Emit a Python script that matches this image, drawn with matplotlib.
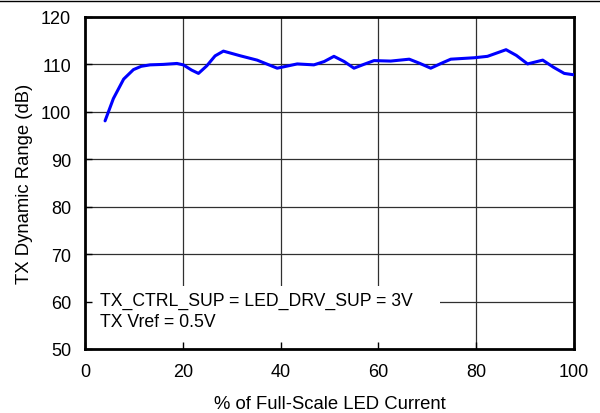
import matplotlib.pyplot as plt
from matplotlib.lines import Line2D
from matplotlib.patches import Rectangle

plt.rcParams['font.family'] = ['Liberation Sans', 'DejaVu Sans']

# % of full-scale LED current vs TX dynamic range (dB)
current = [4.1, 5.8, 7.9, 9.9, 11.5, 13.3, 16.0, 18.8, 20.1, 21.8, 23.2, 24.9,
           26.6, 28.3, 31.8, 35.2, 39.3, 43.4, 46.8, 48.9, 50.9, 53.0, 55.0,
           57.0, 59.1, 62.5, 66.3, 68.5, 70.7, 72.8, 74.8, 79.6, 82.3, 84.2,
           86.1, 88.2, 90.5, 93.6, 95.8, 98.0, 100.0]
dyn_range = [98.1, 102.8, 106.9, 108.9, 109.6, 109.9, 110.0, 110.2, 109.9, 108.8,
             108.1, 109.7, 111.8, 112.8, 111.8, 110.9, 109.2, 110.1, 109.9, 110.6,
             111.7, 110.6, 109.2, 110.0, 110.8, 110.7, 111.1, 110.2, 109.2, 110.2,
             111.1, 111.4, 111.7, 112.4, 113.1, 111.9, 110.1, 110.9, 109.4, 108.1,
             107.8]

xticks = [0, 20, 40, 60, 80, 100]
yticks = [50, 60, 70, 80, 90, 100, 110, 120]

fig = plt.figure(figsize=(6, 4.14), dpi=100)
ax = fig.add_axes([0.1417, 0.1546, 0.815, 0.802])

# grid drawn by hand so the note box can cover it but not the ticks
for x in xticks[1:-1]:
    ax.axvline(x, color='#303030', lw=0.9, zorder=1)
for y in yticks[1:-1]:
    ax.axhline(y, color='#303030', lw=0.9, zorder=1)

ax.plot(current, dyn_range, color='#0000ff', lw=2.2, zorder=3,
        solid_joinstyle='round', solid_capstyle='round')

ax.set_xlim(0, 100)
ax.set_ylim(50, 120)
ax.set_xticks(xticks)
ax.set_yticks(yticks)
ax.tick_params(direction='in', length=5, width=1, labelsize=13, pad=10)
ax.set_axisbelow(False)
for s in ax.spines.values():
    s.set_linewidth(2)

ax.set_xlabel('% of Full-Scale LED Current', fontsize=13.3, labelpad=11)
ax.set_ylabel('TX Dynamic Range (dB)', fontsize=13.3, labelpad=6)

# white note area hides the grid down to the bottom spine
ax.add_patch(Rectangle((0, 0), 0.725, 0.19, transform=ax.transAxes,
                       facecolor='white', edgecolor='none', zorder=2))
ax.text(3.1, 58.0, 'TX_CTRL_SUP = LED_DRV_SUP = 3V\nTX Vref = 0.5V', fontsize=12.7,
        ha='left', va='center', linespacing=1.3, zorder=2.2)

fig.add_artist(Line2D([0, 1], [0.995, 0.995], color='black', lw=1))

fig.savefig('out.png', dpi=100)
